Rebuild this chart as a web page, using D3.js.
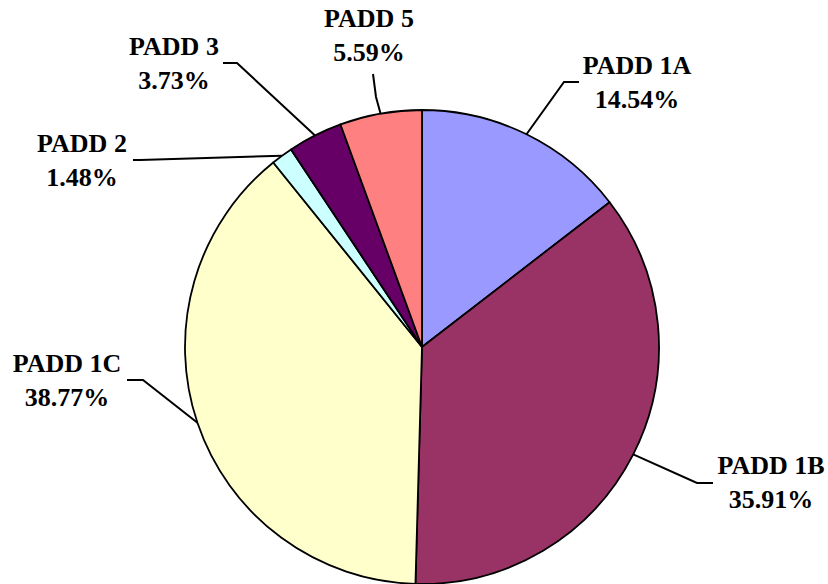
<!DOCTYPE html>
<html>
<head>
<meta charset="utf-8">
<script src="https://cdn.jsdelivr.net/npm/d3@7"></script>
<style>
  html, body { margin: 0; padding: 0; background: #ffffff; }
  svg { display: block; }
</style>
</head>
<body>
<svg id="chart" width="828" height="584"></svg>
<script>
// ---- data ----
const categories = ["PADD 1A", "PADD 1B", "PADD 1C", "PADD 2", "PADD 3", "PADD 5"];
const shares = [14.54, 35.91, 38.77, 1.48, 3.73, 5.59];
const percentLabels = ["14.54%", "35.91%", "38.77%", "1.48%", "3.73%", "5.59%"];
const sliceColors = ["#9999FF", "#993366", "#FFFFCC", "#CCFFFF", "#660066", "#FF8080"];

// ---- label layout (positions, separate from data) ----
const labelLayout = [
  { x: 637, y: 74,  elbow: [564, 82],  end: [579, 82] },
  { x: 771, y: 474, elbow: [697, 483], end: [713, 483] },
  { x: 67,  y: 372, elbow: [143, 380], end: [127, 380] },
  { x: 82,  y: 152, elbow: [140, 160], end: [133, 160] },
  { x: 174, y: 55,  elbow: [237, 63],  end: [223, 63] },
  { x: 369, y: 27,  elbow: [376, 97],  end: [373, 74] }
];

const W = 828, H = 584;
const cx = 422, cy = 347, R = 237;

const svg = d3.select("#chart");
const g = svg.append("g").attr("transform", `translate(${cx},${cy})`);

const pie = d3.pie().sort(null).value(d => d)(shares);
const arc = d3.arc().innerRadius(0).outerRadius(R);

g.selectAll("path.slice")
  .data(pie)
  .join("path")
  .attr("class", "slice")
  .attr("d", arc)
  .attr("fill", (d, i) => sliceColors[i])
  .attr("stroke", "#000")
  .attr("stroke-width", 1.8)
  .attr("stroke-linejoin", "round");

// leader lines
const edgeArc = d3.arc().innerRadius(R).outerRadius(R);
pie.forEach((d, i) => {
  const a = (d.startAngle + d.endAngle) / 2;
  const px = cx + R * Math.sin(a);
  const py = cy - R * Math.cos(a);
  const L = labelLayout[i];
  svg.append("polyline")
    .attr("points", [[px, py], L.elbow, L.end].map(p => p.join(",")).join(" "))
    .attr("fill", "none")
    .attr("stroke", "#000")
    .attr("stroke-width", 2);
});

// labels
categories.forEach((c, i) => {
  const L = labelLayout[i];
  const t = svg.append("text")
    .attr("x", L.x)
    .attr("y", L.y)
    .attr("text-anchor", "middle")
    .attr("font-family", "'Liberation Serif', 'Times New Roman', serif")
    .attr("font-weight", "bold")
    .attr("font-size", 26)
    .attr("fill", "#000");
  t.append("tspan").attr("x", L.x).attr("y", L.y).text(c);
  t.append("tspan").attr("x", L.x).attr("y", L.y + 34).text(percentLabels[i]);
});
</script>
</body>
</html>
